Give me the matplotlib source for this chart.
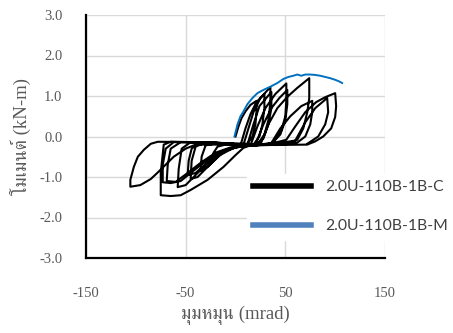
import matplotlib
matplotlib.use('Agg')
from matplotlib import pyplot as plt
from matplotlib.lines import Line2D

# specimen C (cyclic), traced cycle by cycle off the picture
rot_c1 = [0, 3, 6, 10, 15, 21, 21, 20, 17, 12, 0, -10, -18, -22, -24, -18, -10, 0]
mom_c1 = [0, 0.25, 0.45, 0.62, 0.78, 0.88, 0.6, 0.3, 0.0, -0.18, -0.2, -0.2, -0.25, -0.4, -0.62, -0.5, -0.35, -0.25]

rot_c2 = [5, 10, 15, 21, 29, 29, 27, 24, 18, 5, -10, -20, -30, -34, -35, -28, -18, -8, 2]
mom_c2 = [-0.22, 0.2, 0.55, 0.85, 1.05, 0.7, 0.3, 0.0, -0.2, -0.21, -0.18, -0.17, -0.22, -0.5, -0.85, -0.75, -0.5, -0.32, -0.24]

rot_c3 = [8, 13, 18, 25, 35, 35, 33, 29, 22, 5, -15, -30, -40, -44, -45, -38, -28, -15, 0]
mom_c3 = [-0.2, 0.2, 0.6, 0.95, 1.22, 0.85, 0.4, 0.05, -0.2, -0.2, -0.16, -0.15, -0.25, -0.6, -1.05, -1.0, -0.75, -0.45, -0.26]

rot_c4 = [12, 18, 24, 36, 36, 33, 28, 20, 0, -20, -36, -44, -47, -48, -40, -30, -18, -5, 8]
mom_c4 = [-0.2, 0.3, 0.75, 1.1, 0.7, 0.3, -0.05, -0.2, -0.19, -0.15, -0.15, -0.3, -0.6, -0.95, -0.9, -0.68, -0.45, -0.3, -0.24]

rot_c5 = [15, 22, 30, 40, 51, 51, 50, 46, 38, 20, 0, -25, -45, -54, -57, -58, -50, -38, -25, -10, 5]
mom_c5 = [-0.22, 0.25, 0.7, 1.05, 1.31, 0.9, 0.5, 0.15, -0.15, -0.22, -0.2, -0.15, -0.14, -0.3, -0.8, -1.25, -1.2, -0.9, -0.6, -0.35, -0.24]

rot_c6 = [20, 28, 36, 44, 52, 52, 50, 45, 36, 15, -10, -35, -55, -65, -68, -69, -60, -48, -35, -20, -5, 10]
mom_c6 = [-0.2, 0.3, 0.7, 0.95, 1.15, 0.8, 0.4, 0.05, -0.18, -0.22, -0.17, -0.14, -0.14, -0.3, -0.7, -1.1, -1.12, -0.9, -0.65, -0.4, -0.27, -0.23]

rot_c7 = [25, 33, 42, 52, 62, 74, 74, 74, 72, 68, 62, 50, 20, -10, -40, -65, -72, -75, -75, -65, -55, -45, -28, -12, 0, 8, 15]
mom_c7 = [-0.2, 0.3, 0.7, 0.98, 1.2, 1.44, 1.1, 0.95, 0.6, 0.2, -0.08, -0.2, -0.22, -0.17, -0.14, -0.13, -0.2, -0.9, -1.45, -1.47, -1.45, -1.32, -1.07, -0.75, -0.46, -0.28, -0.22]

rot_c8 = [35, 45, 55, 66, 77, 77, 75, 70, 62, 40, 10, -20, -45, -62, -70, -73, -73, -65, -55, -45, -32, -18, 0, 30, 45]
mom_c8 = [-0.2, 0.2, 0.5, 0.75, 0.88, 0.6, 0.3, 0.0, -0.15, -0.21, -0.2, -0.16, -0.14, -0.14, -0.3, -0.7, -1.13, -1.15, -1.1, -0.9, -0.65, -0.4, -0.25, -0.2, -0.12]

rot_c9 = [51, 60, 70, 81, 90, 100, 101, 100, 96, 88, 80, 72, 40, 0, -40, -78, -85, -92, -98, -102, -105.5, -105.5, -95.5, -85, -78.5, -62, -50, -40, 0, 40, 60]
mom_c9 = [-0.08, 0.25, 0.6, 0.85, 0.97, 1.07, 0.75, 0.48, 0.2, 0.0, -0.12, -0.2, -0.21, -0.17, -0.14, -0.13, -0.18, -0.33, -0.5, -0.75, -1.07, -1.24, -1.2, -1.05, -0.9, -0.5, -0.3, -0.2, -0.2, -0.18, -0.1]

rot_c10 = [70, 80, 92, 93, 90, 83, 72]
mom_c10 = [0.35, 0.7, 0.95, 0.6, 0.3, 0.0, -0.18]

# specimen M (monotonic)
rot_m = [-1, 2, 5, 8, 12, 17, 22, 28, 35, 42, 48, 53, 58, 62, 66, 70, 75, 80, 85, 90, 95, 100, 104, 107]
mom_m = [0.0, 0.3, 0.5, 0.62, 0.8, 0.95, 1.07, 1.15, 1.23, 1.32, 1.42, 1.47, 1.5, 1.53, 1.5, 1.53, 1.53, 1.52, 1.5, 1.47, 1.44, 1.4, 1.36, 1.32]

rot_c = rot_c1 + rot_c2 + rot_c3 + rot_c4 + rot_c5 + rot_c6 + rot_c7 + rot_c8 + rot_c9 + rot_c10
mom_c = mom_c1 + mom_c2 + mom_c3 + mom_c4 + mom_c5 + mom_c6 + mom_c7 + mom_c8 + mom_c9 + mom_c10

x_ticks = [-150, -50, 50, 150]
y_ticks = [-3, -2, -1, 0, 1, 2, 3]

plt.rcParams['font.family'] = ['Liberation Serif', 'FreeSerif']
plt.rcParams['axes.unicode_minus'] = False

fig = plt.figure(figsize=(4.53, 3.33), dpi=100)
ax = fig.add_axes([86 / 453, 1 - 258 / 333, 299 / 453, 243 / 333])

ax.plot(rot_c, mom_c, color='black', lw=1.5, zorder=3)
ax.plot(rot_m, mom_m, color='#0070c0', lw=1.4, zorder=4)

ax.set_xlim(-150, 150)
ax.set_ylim(-3, 3)
ax.set_xticks(x_ticks)
ax.set_yticks(y_ticks)
ax.set_yticklabels(['%.1f' % v for v in y_ticks])
ax.tick_params(length=0, labelsize=10.5, colors='#595959')
ax.tick_params(axis='x', pad=21)
ax.tick_params(axis='y', pad=17)
ax.grid(True, color='#d9d9d9', lw=1)
ax.set_axisbelow(True)
for s in ['top', 'right']:
    ax.spines[s].set_visible(False)
for s in ['left', 'bottom']:
    ax.spines[s].set_linewidth(1.6)
    ax.spines[s].set_zorder(5)

ax.set_xlabel('มุมหมุน (mrad)', fontsize=13.5, color='#595959', labelpad=4)
ax.set_ylabel('โมเมนต์ (kN-m)', fontsize=13.5, color='#595959', labelpad=6)

handles = [Line2D([], [], color='black', lw=4),
           Line2D([], [], color='#4f81bd', lw=4)]
leg = fig.legend(handles, ['2.0U-110B-1B-C', '2.0U-110B-1B-M'],
                 loc='upper left', bbox_to_anchor=(247 / 453, 1 - 174 / 333),
                 borderaxespad=0, borderpad=0.4,
                 frameon=True, framealpha=1, edgecolor='white', fancybox=False,
                 prop={'family': 'Lato', 'size': 11.3}, handlelength=3.7,
                 labelspacing=1.6, handletextpad=0.9, labelcolor='#404040')
leg.set_zorder(10)

plt.savefig('out.png', dpi=100)
